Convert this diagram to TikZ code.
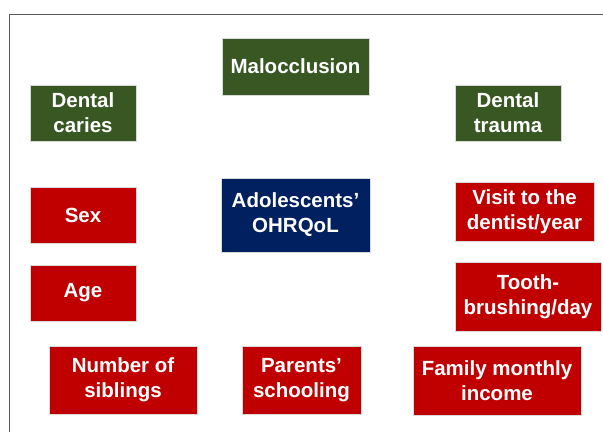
\documentclass[tikz,border=0pt]{standalone}
\usepackage{fontspec}
\setmainfont{Liberation Sans}
\usepackage{xcolor}
\definecolor{exposgreen}{HTML}{385723}
\definecolor{confred}{HTML}{C00000}
\definecolor{outnavy}{HTML}{002060}
\newcommand{\boxfont}{\bfseries\fontsize{20.5}{25}\selectfont}

\begin{document}
\begin{tikzpicture}[x=1pt, y=-1pt,
    factor/.style={text=white, align=center, inner sep=0pt, font=\boxfont, draw=white!85!black, line width=0.4pt},
    exposure/.style={factor, fill=exposgreen},
    confounder/.style={factor, fill=confred},
    outcome/.style={factor, fill=outnavy}]
    \useasboundingbox (0, 0) rectangle (603, 432);

    % frame
    \draw[black!65, line width=1pt] (9, 432) -- (9, 14) -- (603, 14);

    % exposures
    \node [exposure, minimum width=147, minimum height=57] (malo) at (295.5, 66.5) {Malocclusion};
    \node [exposure, minimum width=106, minimum height=56] (caries) at (83, 113) {Dental\\caries};
    \node [exposure, minimum width=106, minimum height=56] (trauma) at (508, 113) {Dental\\trauma};

    % outcome
    \node [outcome, minimum width=149, minimum height=74] (ohrqol) at (295.5, 215) {Adolescents’\\OHRQoL};

    % covariates
    \node [confounder, minimum width=106, minimum height=56] (sex) at (83, 215) {Sex};
    \node [confounder, minimum width=106, minimum height=56] (age) at (83, 293) {Age};
    \node [confounder, minimum width=139, minimum height=59] (visit) at (524.5, 211.5) {Visit to the\\dentist/year};
    \node [confounder, minimum width=146, minimum height=69] (brush) at (528, 297) {Tooth-\\brushing/day};
    \node [confounder, minimum width=148, minimum height=68] (siblings) at (123, 380) {Number of\\siblings};
    \node [confounder, minimum width=119, minimum height=68] (school) at (301.5, 380) {Parents’\\schooling};
    \node [confounder, minimum width=168, minimum height=69] (income) at (497, 380.5) {Family monthly\\income};
\end{tikzpicture}
\end{document}
